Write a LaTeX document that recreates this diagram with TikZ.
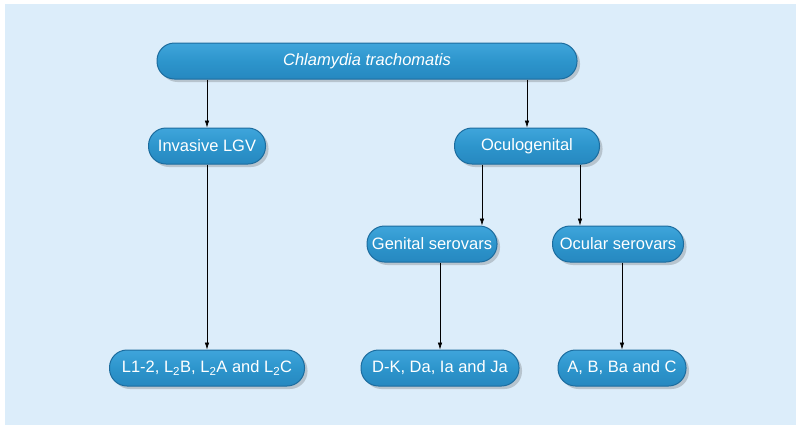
\documentclass[tikz,border=0pt]{standalone}
\usepackage{fontspec}
\setmainfont{Liberation Sans}
\usetikzlibrary{arrows.meta,shadows,calc}
\definecolor{bgblue}{HTML}{DCEDFA}
\definecolor{boxfill}{HTML}{2D95CC}
\definecolor{boxtop}{HTML}{3FA5DB}
\definecolor{boxbot}{HTML}{2688C0}
\definecolor{boxline}{HTML}{1C6C9E}
\tikzset{
  pill/.style={rounded corners=17.5pt, minimum height=36pt, inner sep=0pt,
    top color=boxtop, bottom color=boxbot, middle color=boxfill,
    draw=boxline, line width=1pt, text=white,
    font=\fontsize{16.5}{19}\selectfont,
    drop shadow={shadow xshift=3pt, shadow yshift=-3pt, opacity=0.25, fill=black!70}},
  arr/.style={-{Latex[length=7pt,width=4.5pt]}, line width=0.6pt, black}
}
\begin{document}
\begin{tikzpicture}[x=1pt,y=-1pt]
\useasboundingbox (0,0) rectangle (800,429);
\fill[white] (0,0) rectangle (800,429);
\fill[bgblue] (5,4) rectangle (796,425);
\node[pill, minimum width=420pt] (top) at (367,61) {\itshape Chlamydia trachomatis};
\node[pill, minimum width=117pt] (inv) at (207,146) {Invasive LGV};
\node[pill, minimum width=145pt] (ocu) at (527,146) {Oculogenital};
\node[pill, minimum width=130pt] (gen) at (432,244) {Genital serovars};
\node[pill, minimum width=131pt] (ocl) at (618,244) {Ocular serovars};
\node[pill, minimum width=195pt] (lgv) at (207,368) {L1-2, L\textsubscript{2}B, L\textsubscript{2}A and L\textsubscript{2}C};
\node[pill, minimum width=158pt] (dk) at (440,368) {D-K, Da, Ia and Ja};
\node[pill, minimum width=128pt] (ab) at (622,368) {A, B, Ba and C};
\coordinate (o1) at ([xshift=-45pt]ocu.south);
\coordinate (o2) at ([xshift=53pt]ocu.south);
\draw[arr] (top.south -| inv) -- (inv.north);
\draw[arr] (top.south -| ocu) -- (ocu.north);
\draw[arr] (inv.south) -- (lgv.north);
\draw[arr] (o1) -- (o1 |- gen.north);
\draw[arr] (o2) -- (o2 |- ocl.north);
\draw[arr] (gen.south -| dk) -- (dk.north);
\draw[arr] (ocl.south -| ab) -- (ab.north);
\end{tikzpicture}
\end{document}
